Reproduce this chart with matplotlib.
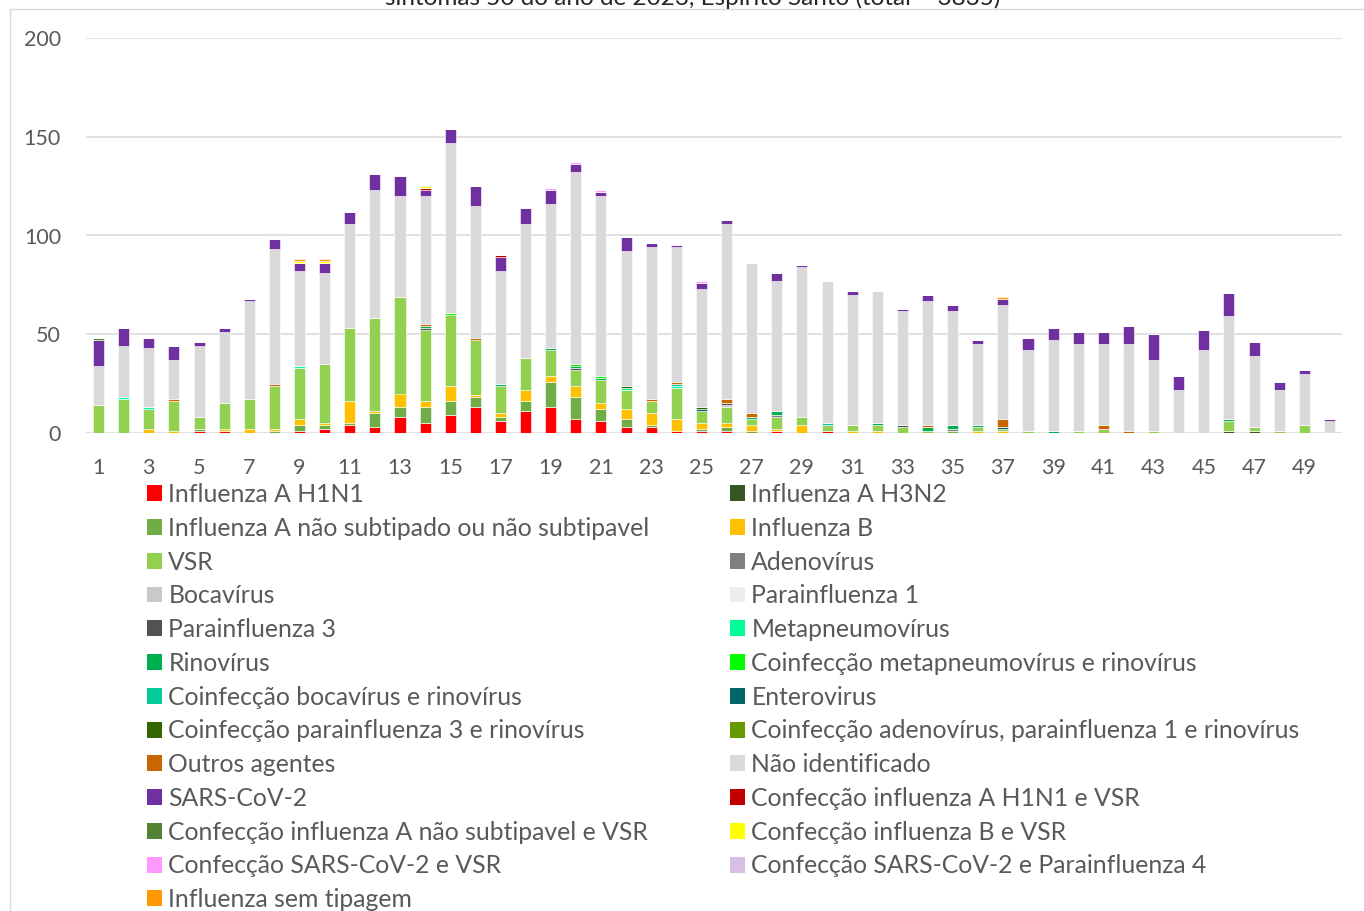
import numpy as np
import matplotlib
matplotlib.use("Agg")
import matplotlib.pyplot as plt
from matplotlib.patches import Patch, Rectangle

plt.rcParams['font.family'] = ['Lato', 'DejaVu Sans']

weeks = list(range(1, 51))
tick_weeks = list(range(1, 50, 2))
y_ticks = [0, 50, 100, 150, 200]
title = "sintomas 50 do ano de 2023, Espírito Santo (total = 3835)"

def series(d):
    v = [0] * 50
    for k, val in d.items():
        v[k - 1] = val
    return v

h1n1 = series({5: 1, 6: 1, 9: 1, 10: 2, 11: 4, 12: 3, 13: 8, 14: 5, 15: 9, 16: 13, 17: 6, 18: 11,
               19: 13, 20: 7, 21: 6, 22: 3, 23: 3, 24: 1, 25: 1, 26: 1, 28: 1, 30: 1})
h3n2 = series({46: 1, 47: 1})
a_ns = series({5: 1, 8: 1, 9: 3, 10: 2, 11: 1, 12: 7, 13: 5, 14: 8, 15: 7, 16: 5, 17: 2, 18: 5,
               19: 13, 20: 11, 21: 6, 22: 4, 23: 1, 25: 1, 26: 2, 27: 1, 35: 1})
flu_b = series({3: 2, 4: 1, 6: 1, 7: 2, 8: 1, 9: 3, 10: 1, 11: 11, 12: 1, 13: 7, 14: 3, 15: 8,
                16: 1, 17: 2, 18: 6, 19: 3, 20: 6, 21: 3, 22: 5, 23: 6, 24: 6, 25: 3, 26: 2,
                27: 3, 28: 1, 29: 4, 31: 1, 32: 1, 36: 1, 37: 1})
vsr = series({1: 14, 2: 17, 3: 10, 4: 15, 5: 6, 6: 13, 7: 15, 8: 22, 9: 26, 10: 30, 11: 37,
              12: 47, 13: 49, 14: 36, 15: 36, 16: 28, 17: 14, 18: 16, 19: 13, 20: 8, 21: 12,
              22: 10, 23: 6, 24: 16, 25: 6, 26: 8, 27: 3, 28: 6, 29: 4, 30: 3, 31: 3, 32: 3,
              33: 3, 34: 1, 36: 2, 37: 1, 38: 1, 40: 1, 41: 2, 43: 1, 46: 5, 47: 2, 48: 1, 49: 4})
adeno = series({28: 1, 35: 1})
boca = series({26: 1})
para1 = series({})
para3 = series({14: 1, 20: 1, 26: 1, 33: 1})
metap = series({2: 1, 3: 1, 9: 1, 22: 1, 24: 1})
rino = series({14: 1, 17: 1, 19: 1, 20: 1, 21: 1, 27: 1, 28: 2, 32: 1, 34: 2, 35: 2, 36: 1,
               39: 1, 46: 1})
co_metap_rino = series({15: 1, 20: 1, 21: 1})
co_boca_rino = series({24: 1, 30: 1})
entero = series({25: 1, 37: 1})
co_para3_rino = series({22: 1, 25: 1})
co_adeno_para1_rino = series({})
outros = series({4: 1, 8: 1, 14: 1, 16: 1, 23: 1, 24: 1, 26: 2, 27: 2, 34: 1, 37: 4, 41: 2, 42: 1})
nao_ident = [20, 26, 30, 20, 36, 36, 50, 68, 48, 46, 53, 65, 51, 65, 86, 67, 57, 68, 73, 97,
             91, 68, 77, 68, 60, 89, 76, 66, 76, 72, 66, 67, 58, 63, 58, 41, 58, 41, 46, 44,
             41, 44, 36, 22, 42, 52, 36, 21, 26, 6]
sars = [13, 9, 5, 7, 2, 2, 1, 5, 4, 5, 6, 8, 10, 3, 7, 10, 7, 8, 7, 4,
        2, 7, 2, 1, 3, 2, 0, 4, 1, 0, 2, 0, 1, 3, 3, 2, 3, 6, 6, 6,
        6, 9, 13, 7, 10, 12, 7, 4, 2, 1]
co_h1n1_vsr = series({14: 1, 17: 1})
co_ans_vsr = series({1: 1})
co_b_vsr = series({9: 1, 10: 1, 14: 1})
co_sars_vsr = series({19: 1, 20: 1, 21: 1, 25: 1})
co_sars_para4 = series({})
sem_tipagem = series({9: 1, 10: 1, 37: 1})

layers = [
    ("Influenza A H1N1", h1n1, "#FF0000"),
    ("Influenza A H3N2", h3n2, "#375623"),
    ("Influenza A não subtipado ou não subtipavel", a_ns, "#70AD47"),
    ("Influenza B", flu_b, "#FFC000"),
    ("VSR", vsr, "#92D050"),
    ("Adenovírus", adeno, "#808080"),
    ("Bocavírus", boca, "#C9C9C9"),
    ("Parainfluenza 1", para1, "#EDEDED"),
    ("Parainfluenza 3", para3, "#525252"),
    ("Metapneumovírus", metap, "#00FF99"),
    ("Rinovírus", rino, "#00B050"),
    ("Coinfecção metapneumovírus e rinovírus", co_metap_rino, "#00FF00"),
    ("Coinfecção bocavírus e rinovírus", co_boca_rino, "#00CC99"),
    ("Enterovirus", entero, "#006666"),
    ("Coinfecção parainfluenza 3 e rinovírus", co_para3_rino, "#336600"),
    ("Coinfecção adenovírus, parainfluenza 1 e rinovírus", co_adeno_para1_rino, "#669900"),
    ("Outros agentes", outros, "#CC6600"),
    ("Não identificado", nao_ident, "#D9D9D9"),
    ("SARS-CoV-2", sars, "#7030A0"),
    ("Confecção influenza A H1N1 e VSR", co_h1n1_vsr, "#C00000"),
    ("Confecção influenza A não subtipavel e VSR", co_ans_vsr, "#548235"),
    ("Confecção influenza B e VSR", co_b_vsr, "#FFFF00"),
    ("Confecção SARS-CoV-2 e VSR", co_sars_vsr, "#FF99FF"),
    ("Confecção SARS-CoV-2 e Parainfluenza 4", co_sars_para4, "#D9BFE6"),
    ("Influenza sem tipagem", sem_tipagem, "#FF9900"),
]

W, H = 1364, 911
fig = plt.figure(figsize=(W / 100, H / 100), dpi=100)
ax = fig.add_axes([86 / W, 1 - 433 / H, (1342 - 86) / W, (433 - 38) / H])

x = np.array(weeks)
bottom = np.zeros(50)
for label, vals, color in layers:
    v = np.array(vals, dtype=float)
    ax.bar(x, v, bottom=bottom, width=0.44, color=color, edgecolor='white', linewidth=0.4, zorder=3)
    bottom += v

ax.set_xlim(0.5, 50.5)
ax.set_ylim(0, 200)
ax.set_yticks(y_ticks)
ax.set_xticks(tick_weeks)
ax.set_xticklabels([str(t) for t in tick_weeks])
for s in ax.spines.values():
    s.set_visible(False)
ax.yaxis.grid(True, color='#D9D9D9', linewidth=1.1, zorder=0)
ax.set_axisbelow(True)
ax.tick_params(axis='both', length=0, labelsize=15.5, colors='#595959')
ax.tick_params(axis='x', pad=18)
ax.tick_params(axis='y', pad=18)

# outer frame
fig.patches.append(Rectangle((10 / W, -0.05), 1.1, 1 - 9 / H + 0.05, transform=fig.transFigure,
                             fill=False, edgecolor='#D9D9D9', linewidth=1.0))

fig.text(693 / W, 1 - 5 / H, title, ha='center', va='baseline', fontsize=17.5, color='#262626')

handles = [Patch(facecolor=c, edgecolor='none', label=l) for l, _, c in layers]
left_h = handles[0::2]
right_h = handles[1::2]
common = dict(frameon=False, fontsize=17.8, handlelength=0.61, handleheight=0.61,
              handletextpad=0.25, labelspacing=0.435, borderpad=0, borderaxespad=0,
              loc='upper left', labelcolor='#595959')
fig.legend(handles=left_h, bbox_to_anchor=(147 / W, 1 - 483 / H), **common)
fig.legend(handles=right_h, bbox_to_anchor=(730 / W, 1 - 483 / H), **common)

fig.savefig("out.png", dpi=100)
